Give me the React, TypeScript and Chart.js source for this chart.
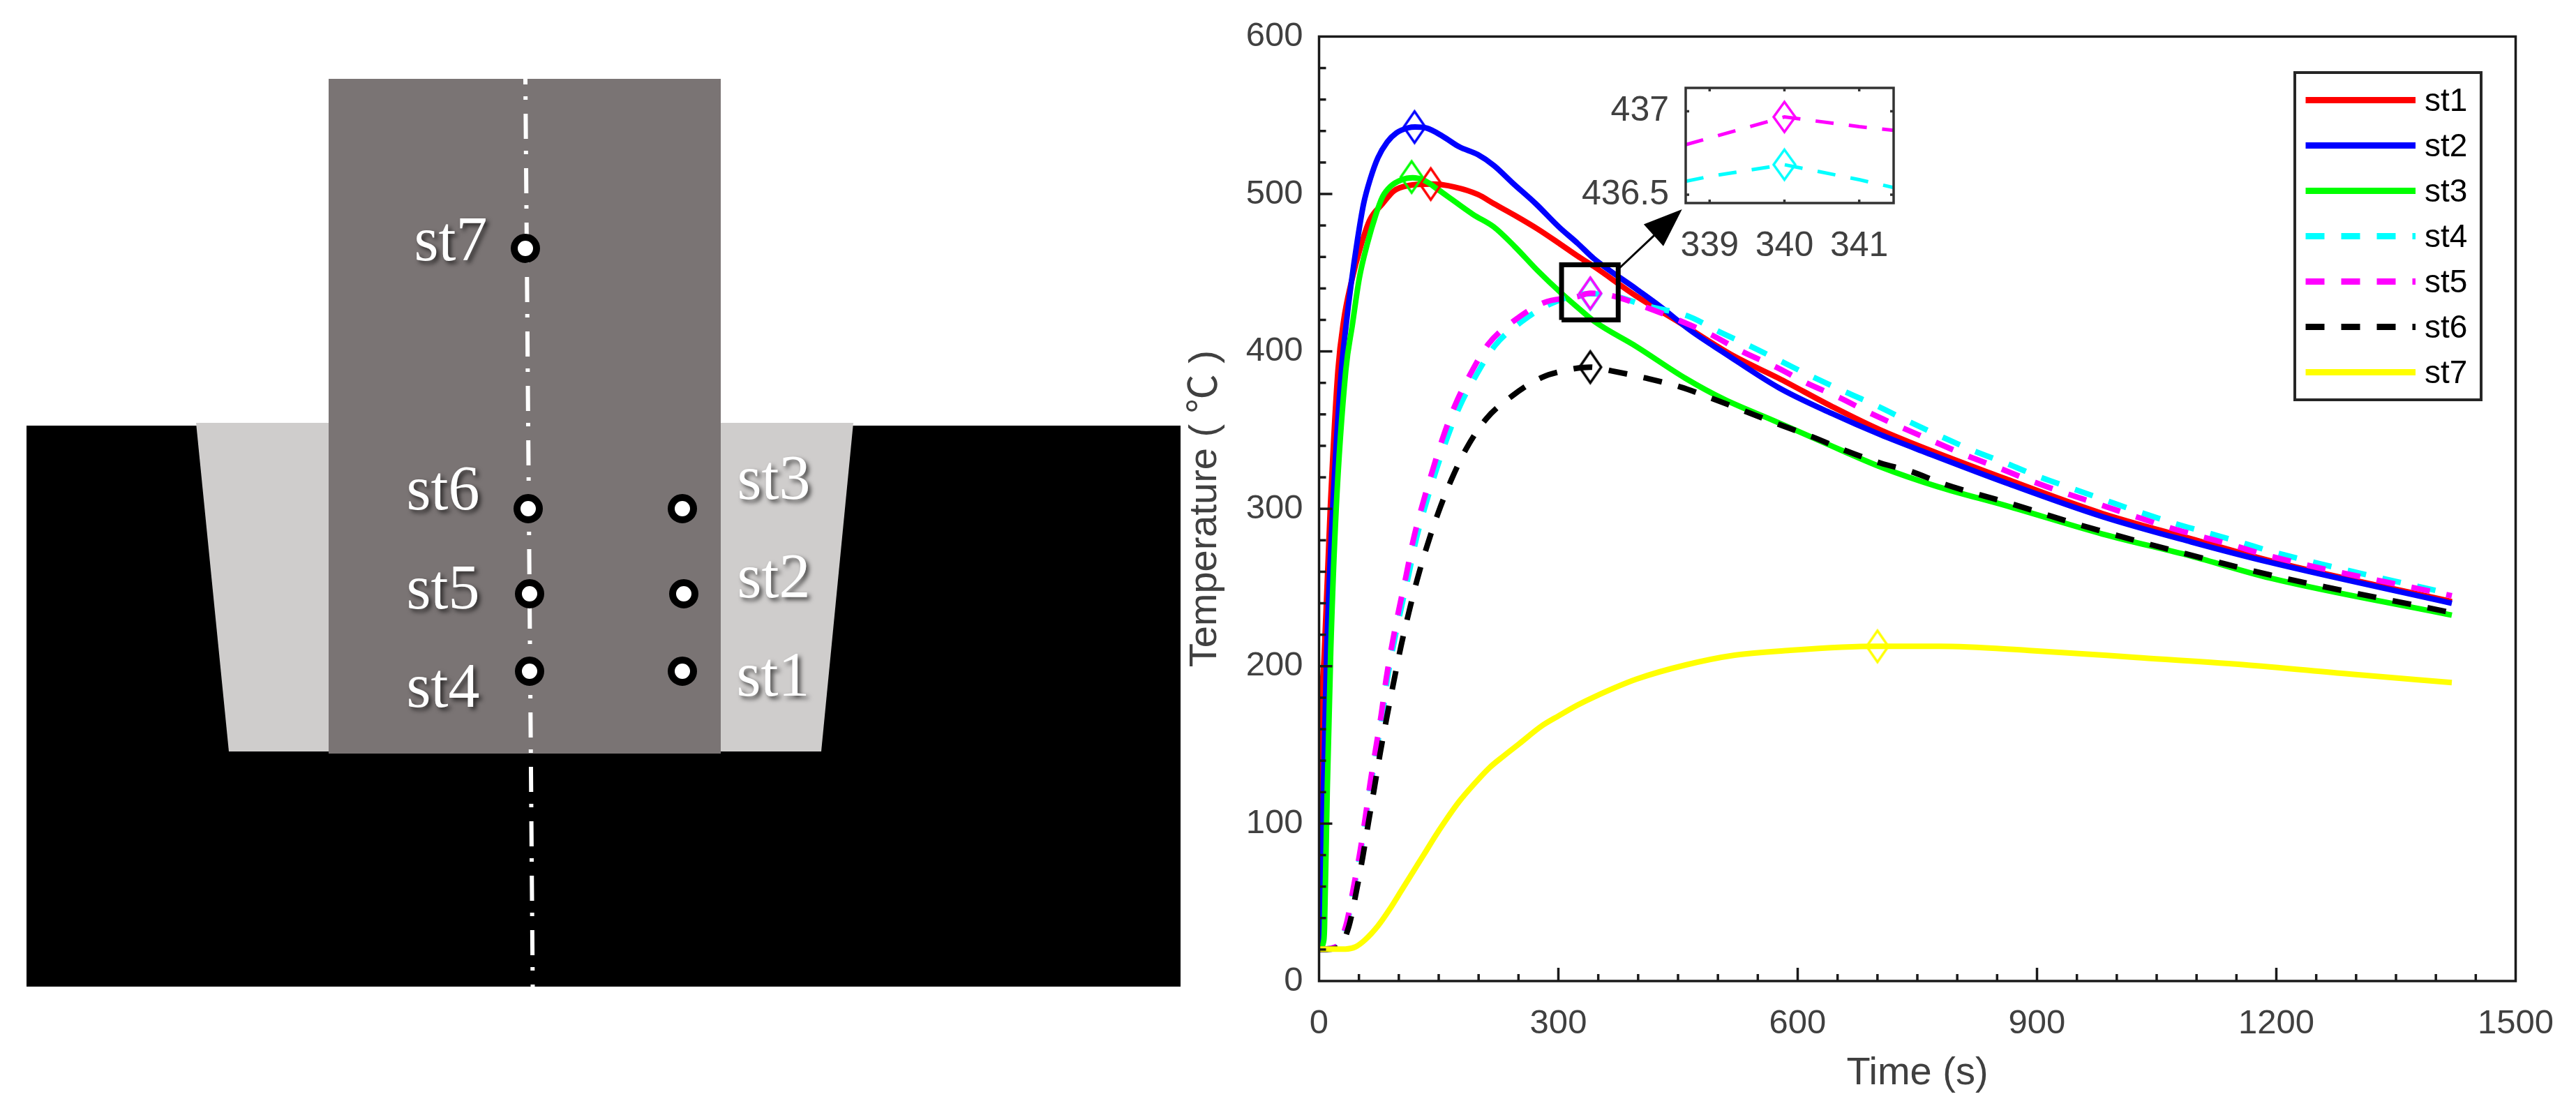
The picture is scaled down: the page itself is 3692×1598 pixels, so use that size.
import { useEffect, useRef } from "react";
import { Chart, registerables } from "chart.js";

Chart.register(...registerables);

const SANS = '"Liberation Sans", "Noto Sans CJK SC", sans-serif';
const SERIF = '"Liberation Serif", serif';
const GREY_TEXT = "#404040";

// temperature curves
const st1Time = [0, 0.5, 1.6, 6.8, 14, 23.7, 31, 40, 53.4, 63.6, 79.6, 94, 111.6, 141, 170, 199, 219.3, 245.5, 274.6, 300.8, 324, 344.4, 398, 453, 520, 576, 643, 704, 861, 982, 1093, 1192, 1420];
const st1Temp = [20, 33.6, 122, 210.7, 299.2, 387.8, 420, 443, 468.7, 483.5, 493.8, 502, 505.3, 506.3, 504.4, 499.7, 493.8, 486.4, 477.6, 468.7, 460.6, 454, 435, 418, 397, 383, 365, 350, 319, 297, 281, 267, 241];
const st2Time = [0, 2.2, 5.4, 9.7, 17, 28, 34, 40, 47.9, 55.8, 64.5, 73.8, 85.4, 97, 111.6, 120.3, 135, 155.2, 175.6, 199, 219.3, 242.6, 271.7, 300.8, 324, 344.4, 398, 429, 465, 508, 576, 643, 704, 761, 861, 982, 1093, 1192, 1420];
const st2Temp = [20, 33.6, 122, 210.7, 299.2, 387.8, 417, 442, 470, 493.6, 510, 523, 533, 538.8, 542, 542.5, 541.8, 536.6, 530, 525, 518, 507, 493.8, 479, 468.7, 459, 439.5, 428, 413.5, 399, 377, 360.5, 347, 335.7, 316.5, 295, 279, 266, 240];
const st3Time = [0, 6, 6.8, 10.3, 14.7, 21.4, 33.5, 41.8, 50.5, 60.7, 70.9, 79.6, 89.8, 102.9, 117.4, 132, 149.4, 169.8, 193, 219.3, 245.5, 274.6, 303.6, 324, 344.4, 398, 459, 508, 570, 631, 704, 776, 861, 982, 1093, 1192, 1420];
const st3Temp = [20, 26, 33.6, 122, 210.7, 299.2, 387.8, 417, 446.6, 468.7, 486.4, 498.2, 504.9, 508.9, 510.3, 508.6, 502.7, 495.3, 487, 479, 466.5, 451, 437, 428, 419.3, 403, 383, 369.5, 356, 342.5, 326.6, 314, 302, 284, 270, 256, 232.4];
const st4Time = [0, 23, 35.2, 43.7, 51.7, 58.6, 65, 72.1, 79.5, 85.5, 94, 102.5, 112.3, 121.5, 133, 146.1, 160.1, 176.9, 196, 220.7, 253, 290.6, 340, 367, 410, 462, 502, 542, 582, 618, 661, 701, 741, 779.5, 820, 861, 902, 943.6, 985, 1028, 1070.6, 1112, 1153.5, 1196.6, 1420];
const st4Temp = [20, 22, 36.8, 59, 81, 103.2, 125.4, 147.2, 169.4, 191.5, 215, 235.8, 257.9, 280, 301.5, 323.3, 344.3, 365.7, 384, 403.8, 418.5, 430.3, 436.6, 435.6, 429, 422.5, 412.4, 403, 393, 384, 374, 365, 355, 346, 337, 329, 320.5, 313, 305.6, 298, 291, 285, 279, 272.5, 245.7];
const st5Time = [0, 22, 34.5, 43, 51, 57.8, 64, 70.9, 78, 84, 92, 100, 109.3, 118, 129, 141.6, 154.6, 170.4, 188, 212, 244, 282, 324, 340, 367, 410, 450, 490, 530, 573, 612, 652, 692, 729, 769.5, 811, 852, 893, 935, 977, 1018, 1060, 1104, 1145, 1187, 1420];
const st5Temp = [20, 22, 36.8, 59, 81, 103.2, 125.4, 147.2, 169.4, 191.5, 215, 235.8, 257.9, 280, 301.5, 323.3, 344.3, 365.7, 384, 404.5, 419.3, 431, 434.8, 436.9, 435.4, 428, 420, 411, 400, 390, 379.7, 370.7, 360.5, 352, 343, 334, 326, 317.6, 310, 303, 296, 289, 282.6, 277, 270.6, 244.7];
const st6Time = [0, 24, 37.4, 46.7, 54.8, 62, 69.4, 76.7, 84.8, 93.3, 102.8, 112, 123, 135.4, 149.4, 165.8, 185, 209.7, 242.6, 279, 306, 340, 367, 410, 453, 496, 536, 576, 618, 661, 704, 742, 783, 869, 952, 1037, 1082, 1192, 1420];
const st6Temp = [20, 21, 34.8, 56.8, 78.9, 101, 122.9, 145, 167.2, 189.3, 212.9, 233, 255, 276.4, 297.5, 318.4, 338.6, 357.2, 371.9, 383.4, 387.6, 390, 387.6, 383, 377.4, 369.5, 361.6, 353.7, 345.8, 336.8, 329, 323.7, 315.8, 303, 290, 278, 272, 258, 234];
const st7Time = [0, 33, 46, 57.8, 73.8, 88.3, 102.9, 117.4, 132, 143.6, 158, 175.6, 193, 213.4, 231, 251.3, 279, 300.8, 324, 344.4, 398, 459.6, 521, 588, 699, 778, 890, 1024, 1158, 1292, 1420];
const st7Temp = [20.3, 20.3, 21.8, 26.2, 35, 45.4, 57.2, 69, 80.8, 90.4, 101.5, 114, 124.4, 135.4, 142.8, 150.9, 162, 168.6, 175.3, 180.4, 191.8, 200.8, 207, 210, 212.6, 212.6, 210, 205.6, 201, 195, 189.6];

const seriesNames = ["st1", "st2", "st3", "st4", "st5", "st6", "st7"];
const seriesColors = ["#ff0000", "#0000ff", "#00ff00", "#00ffff", "#ff00ff", "#000000", "#ffff00"];
const seriesDashed = [false, false, false, true, true, true, false];
const seriesTimes = [st1Time, st2Time, st3Time, st4Time, st5Time, st6Time, st7Time];
const seriesTemps = [st1Temp, st2Temp, st3Temp, st4Temp, st5Temp, st6Temp, st7Temp];

// peak markers
const peakTimes = [140, 119.7, 116, 340, 340, 340, 700];
const peakTemps = [506.3, 542.5, 510.8, 436.6, 436.9, 390, 212.6];

// zoom box and arrow, in data units
const zoomBoxX = [304, 304, 375, 375, 304];
const zoomBoxY = [420, 455, 455, 420, 420];
const arrowShaftX = [376.5, 425];
const arrowShaftY = [452.9, 476];
const arrowHeadX = [455, 407, 431.6, 455];
const arrowHeadY = [490.3, 480.7, 466.9, 490.3];

// inset
const insetTime = [338.68, 339, 340, 341, 341.46];
const insetSt4 = [436.58, 436.61, 436.68, 436.59, 436.543];
const insetSt5 = [436.8, 436.84, 436.966, 436.908, 436.886];
const insetXTicks = [339, 340, 341];
const insetYTicks = [436.5, 437];

// schematic geometry, in picture pixels
const baseX = [38, 1692, 1692, 38, 38];
const baseY = [610, 610, 1414, 1414, 610];
const weldX = [281, 1223, 1177, 328, 281];
const weldY = [606, 606, 1077, 1077, 606];
const toolX = [471, 1033, 1033, 471, 471];
const toolY = [113, 113, 1080, 1080, 113];
const axisLineX = [753, 763.5];
const axisLineY = [113, 1414];
const probeX = [978, 980, 978, 759, 759, 757, 753];
const probeY = [962, 851, 729, 962, 851, 729, 356];
const probeLabelX = [1108, 1109, 1109, 635, 635, 635, 646];
const probeLabelY = [973, 832, 691, 989, 848, 706, 349];

const toPoints = (xs: number[], ys: number[]) => xs.map((x, i) => ({ x, y: ys[i] }));

// MATLAB style thin diamond
const makeDiamond = (color: string, w: number, h: number, lw: number) => {
  const c = document.createElement("canvas");
  c.width = w + lw * 4;
  c.height = h + lw * 4;
  const ctx = c.getContext("2d")!;
  const cx = c.width / 2;
  const cy = c.height / 2;
  ctx.strokeStyle = color;
  ctx.lineWidth = lw;
  ctx.beginPath();
  ctx.moveTo(cx, cy - h / 2);
  ctx.lineTo(cx + w / 2, cy);
  ctx.lineTo(cx, cy + h / 2);
  ctx.lineTo(cx - w / 2, cy);
  ctx.closePath();
  ctx.stroke();
  return c;
};

const frameAndTicks = (id: string, color: string, lw: number, xMinor: number[], yMinor: number[], xMajor: number[], yMajor: number[], major: number, minor: number, mirror: boolean) => ({
  id,
  afterDatasetsDraw(chart: any) {
    const { ctx, chartArea: a, scales } = chart;
    ctx.save();
    ctx.strokeStyle = color;
    ctx.lineWidth = lw;
    ctx.strokeRect(a.left, a.top, a.right - a.left, a.bottom - a.top);
    const tick = (x1: number, y1: number, x2: number, y2: number) => {
      ctx.beginPath();
      ctx.moveTo(x1, y1);
      ctx.lineTo(x2, y2);
      ctx.stroke();
    };
    xMajor.concat(xMinor).forEach((v, i) => {
      const x = scales.x.getPixelForValue(v);
      const len = i < xMajor.length ? major : minor;
      tick(x, a.bottom, x, a.bottom - len);
      if (mirror) tick(x, a.top, x, a.top + len);
    });
    yMajor.concat(yMinor).forEach((v, i) => {
      const y = scales.y.getPixelForValue(v);
      const len = i < yMajor.length ? major : minor;
      tick(a.left, y, a.left + len, y);
      if (mirror) tick(a.right, y, a.right - len, y);
    });
    ctx.restore();
  },
});

const legendBox = {
  id: "legendBox",
  afterDraw(chart: any) {
    const { ctx } = chart;
    const ox = chart.canvas.offsetLeft;
    ctx.save();
    ctx.strokeStyle = "#262626";
    ctx.lineWidth = 4;
    ctx.fillStyle = "#ffffff";
    ctx.fillRect(3289 - ox, 104, 267, 469);
    ctx.strokeRect(3289 - ox, 104, 267, 469);
    ctx.font = `46px ${SANS}`;
    ctx.textBaseline = "middle";
    seriesNames.forEach((name, i) => {
      const y = 143.5 + i * 65;
      ctx.strokeStyle = seriesColors[i];
      ctx.lineWidth = 9;
      ctx.setLineDash(seriesDashed[i] ? [27, 24] : []);
      ctx.beginPath();
      ctx.moveTo(3304.5 - ox, y);
      ctx.lineTo(3462 - ox, y);
      ctx.stroke();
      ctx.setLineDash([]);
      ctx.fillStyle = "#000000";
      ctx.fillText(name, 3475 - ox, y + 3);
    });
    ctx.restore();
  },
};

const probeLabels = {
  id: "probeLabels",
  afterDatasetsDraw(chart: any) {
    const { ctx, scales } = chart;
    ctx.save();
    ctx.font = `90px ${SERIF}`;
    ctx.textAlign = "center";
    ctx.textBaseline = "middle";
    ctx.fillStyle = "#ffffff";
    ctx.shadowColor = "rgba(0,0,0,0.65)";
    ctx.shadowBlur = 6;
    ctx.shadowOffsetX = 4;
    ctx.shadowOffsetY = 4;
    seriesNames.forEach((name, i) => {
      ctx.fillText(name, scales.x.getPixelForValue(probeLabelX[i]), scales.y.getPixelForValue(probeLabelY[i]));
    });
    ctx.restore();
  },
};

export default function App() {
  const schematicRef = useRef<HTMLCanvasElement | null>(null);
  const mainRef = useRef<HTMLCanvasElement | null>(null);
  const insetRef = useRef<HTMLCanvasElement | null>(null);

  useEffect(() => {
    document.body.style.margin = "0";
    if (!schematicRef.current || !mainRef.current || !insetRef.current) return;

    const shape = (xs: number[], ys: number[], color: string) => ({
      data: toPoints(xs, ys),
      borderColor: color,
      backgroundColor: color,
      borderWidth: 0,
      pointRadius: 0,
      fill: "shape",
    });

    const schematic = new Chart(schematicRef.current, {
      type: "line",
      data: {
        datasets: [
          {
            data: toPoints(probeX, probeY),
            showLine: false,
            pointRadius: 16,
            pointBorderWidth: 10,
            pointBorderColor: "#000000",
            pointBackgroundColor: "#ffffff",
            order: 1,
          },
          {
            data: toPoints(axisLineX, axisLineY),
            borderColor: "#ffffff",
            borderWidth: 6,
            borderDash: [36, 17, 5, 20],
            borderDashOffset: 28,
            pointRadius: 0,
            order: 2,
          },
          { ...shape(toolX, toolY, "#7a7474"), order: 3 },
          { ...shape(weldX, weldY, "#cfcdcc"), order: 4 },
          { ...shape(baseX, baseY, "#000000"), order: 5 },
        ] as any,
      },
      options: {
        responsive: false,
        animation: false,
        devicePixelRatio: 1,
        layout: { padding: 0, autoPadding: false },
        plugins: { legend: { display: false }, tooltip: { enabled: false } },
        scales: {
          x: { type: "linear", display: false, min: 0, max: 1800 },
          y: { type: "linear", display: false, min: 0, max: 1598, reverse: true },
        },
      },
      plugins: [probeLabels],
    });

    const main = new Chart(mainRef.current, {
      type: "line",
      data: {
        datasets: [
          ...seriesNames.map((name, i) => ({
            label: name,
            data: toPoints(seriesTimes[i], seriesTemps[i]),
            borderColor: seriesColors[i],
            borderWidth: 8,
            borderDash: seriesDashed[i] ? [27, 24] : [],
            cubicInterpolationMode: "monotone",
            pointRadius: 0,
            order: -i,
          })),
          ...seriesNames.map((name, i) => ({
            label: name + " peak",
            data: [{ x: peakTimes[i], y: peakTemps[i] }],
            showLine: false,
            pointStyle: makeDiamond(seriesColors[i], 31, 45, 3.5),
            pointRadius: 12,
            order: -20 - i,
          })),
          {
            label: "zoom box",
            data: toPoints(zoomBoxX, zoomBoxY),
            borderColor: "#000000",
            borderWidth: 7,
            borderJoinStyle: "miter",
            pointRadius: 0,
            order: -40,
          },
          {
            label: "arrow shaft",
            data: toPoints(arrowShaftX, arrowShaftY),
            borderColor: "#000000",
            borderWidth: 3,
            pointRadius: 0,
            order: -41,
          },
          { ...shape(arrowHeadX, arrowHeadY, "#000000"), label: "arrow head", order: -42 },
        ] as any,
      },
      options: {
        responsive: false,
        animation: false,
        devicePixelRatio: 1,
        layout: { padding: { top: 50.5, right: 82.5, left: 0, bottom: 0 }, autoPadding: false },
        plugins: { legend: { display: false }, tooltip: { enabled: false } },
        scales: {
          x: {
            type: "linear",
            min: 0,
            max: 1500,
            afterFit: (s: any) => {
              s.height = 192;
            },
            grid: { display: false, drawTicks: false },
            border: { display: false },
            ticks: { stepSize: 300, maxRotation: 0, autoSkip: false, padding: 32, color: GREY_TEXT, font: { family: SANS, size: 49 }, callback: (v: any) => String(v) },
            title: { display: true, text: "Time (s)", color: GREY_TEXT, font: { family: SANS, size: 56 }, padding: { top: 0, bottom: 26 } },
          },
          y: {
            type: "linear",
            min: 0,
            max: 600,
            afterFit: (s: any) => {
              s.width = 200.5;
            },
            grid: { display: false, drawTicks: false },
            border: { display: false },
            ticks: { stepSize: 100, autoSkip: false, padding: 23, color: GREY_TEXT, font: { family: SANS, size: 49 }, callback: (v: any) => String(v) },
            title: { display: true, text: "Temperature ( ℃ )", color: GREY_TEXT, font: { family: SANS, size: 56 }, padding: { top: 4, bottom: 0 } },
          },
        },
      } as any,
      plugins: [
        frameAndTicks(
          "mainFrame",
          "#1a1a1a",
          3.5,
          [50, 100, 150, 200, 250, 350, 400, 450, 500, 550, 650, 700, 750, 800, 850, 950, 1000, 1050, 1100, 1150, 1250, 1300, 1350, 1400, 1450],
          [20, 40, 60, 80, 120, 140, 160, 180, 220, 240, 260, 280, 320, 340, 360, 380, 420, 440, 460, 480, 520, 540, 560, 580],
          [300, 600, 900, 1200],
          [100, 200, 300, 400, 500],
          19,
          10,
          false
        ),
        legendBox,
      ],
    });

    const inset = new Chart(insetRef.current, {
      type: "line",
      data: {
        datasets: [
          {
            data: toPoints(insetTime, insetSt5),
            borderColor: "#ff00ff",
            borderWidth: 5,
            borderDash: [26, 22],
            pointRadius: 0,
          },
          {
            data: toPoints(insetTime, insetSt4),
            borderColor: "#00ffff",
            borderWidth: 5,
            borderDash: [26, 22],
            pointRadius: 0,
          },
          {
            data: [{ x: peakTimes[4], y: insetSt5[2] }],
            showLine: false,
            pointStyle: makeDiamond("#ff00ff", 31, 43, 3.5),
            pointRadius: 12,
            order: -1,
          },
          {
            data: [{ x: peakTimes[3], y: insetSt4[2] }],
            showLine: false,
            pointStyle: makeDiamond("#00ffff", 31, 43, 3.5),
            pointRadius: 12,
            order: -1,
          },
        ] as any,
      },
      options: {
        responsive: false,
        animation: false,
        devicePixelRatio: 1,
        layout: { padding: { top: 76, right: 32, left: 0, bottom: 0 }, autoPadding: false },
        plugins: { legend: { display: false }, tooltip: { enabled: false } },
        scales: {
          x: {
            type: "linear",
            min: 338.68,
            max: 341.46,
            afterBuildTicks: (s: any) => {
              s.ticks = insetXTicks.map((value) => ({ value }));
            },
            afterFit: (s: any) => {
              s.height = 99;
            },
            grid: { display: false, drawTicks: false },
            border: { display: false },
            ticks: { maxRotation: 0, autoSkip: false, padding: 32, color: GREY_TEXT, font: { family: SANS, size: 50 }, callback: (v: any) => String(v) },
          },
          y: {
            type: "linear",
            min: 436.45,
            max: 437.14,
            afterBuildTicks: (s: any) => {
              s.ticks = insetYTicks.map((value) => ({ value }));
            },
            afterFit: (s: any) => {
              s.width = 150;
            },
            grid: { display: false, drawTicks: false },
            border: { display: false },
            ticks: { autoSkip: false, padding: 24, color: GREY_TEXT, font: { family: SANS, size: 50 }, callback: (v: any) => String(v) },
          },
        },
      } as any,
      plugins: [frameAndTicks("insetFrame", "#333333", 3.5, [], [], insetXTicks, insetYTicks, 5, 5, true)],
    });

    return () => {
      schematic.destroy();
      main.destroy();
      inset.destroy();
    };
  }, []);

  return (
    <div style={{ position: "absolute", left: 0, top: 0, width: 3692, height: 1598, background: "#ffffff", overflow: "hidden" }}>
      <canvas ref={schematicRef} width={1800} height={1598} style={{ position: "absolute", left: 0, top: 0 }} />
      <canvas ref={mainRef} width={2002} height={1598} style={{ position: "absolute", left: 1690, top: 0 }} />
      <canvas ref={insetRef} width={480} height={340} style={{ position: "absolute", left: 2266, top: 50 }} />
    </div>
  );
}
